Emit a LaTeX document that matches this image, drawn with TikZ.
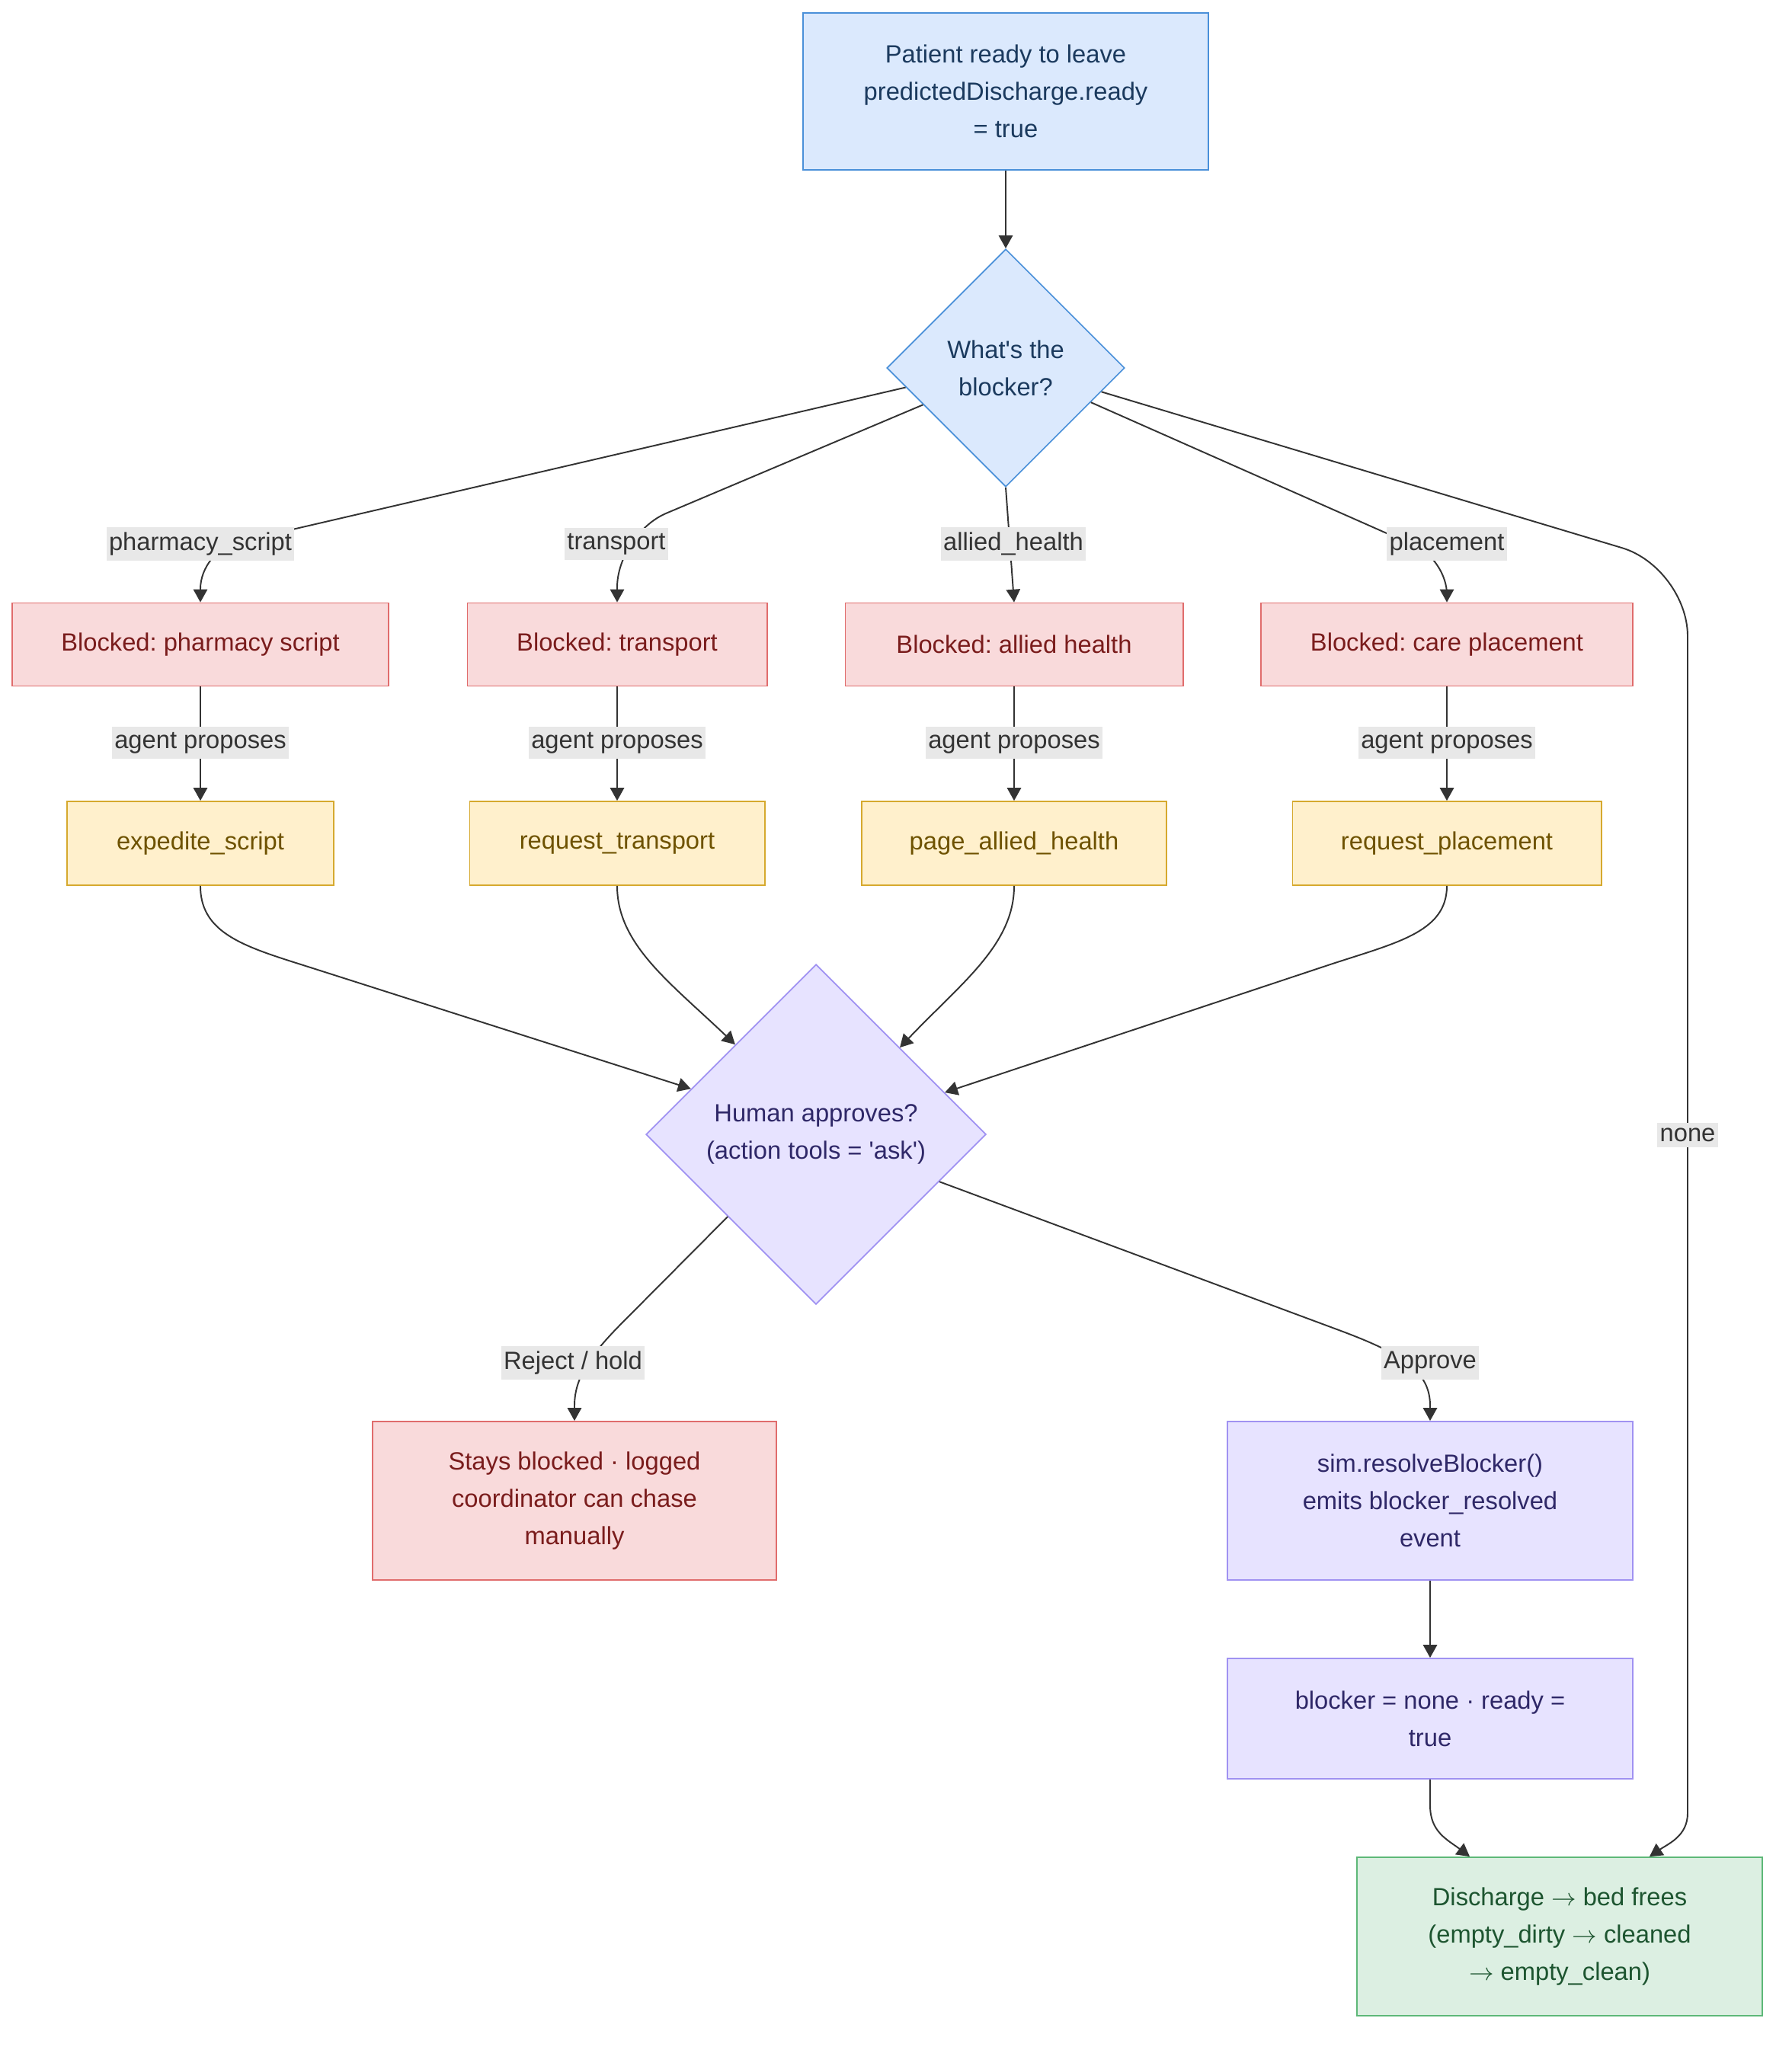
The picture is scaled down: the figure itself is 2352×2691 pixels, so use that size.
\documentclass[tikz,border=0pt]{standalone}
\usepackage{fontspec}
\setmainfont{Liberation Sans}
\usetikzlibrary{shapes.geometric,arrows.meta,calc}
\definecolor{bfill}{HTML}{DBE9FD}
\definecolor{bline}{HTML}{4A90D9}
\definecolor{btext}{HTML}{1B3A5E}
\definecolor{rfill}{HTML}{F9DADB}
\definecolor{rline}{HTML}{E06C6C}
\definecolor{rtext}{HTML}{7A1C1C}
\definecolor{yfill}{HTML}{FFF0CC}
\definecolor{yline}{HTML}{D6A92E}
\definecolor{ytext}{HTML}{6E5200}
\definecolor{pfill}{HTML}{E7E3FF}
\definecolor{pline}{HTML}{A092F2}
\definecolor{ptext}{HTML}{2F2868}
\definecolor{gfill}{HTML}{DCEFE2}
\definecolor{gline}{HTML}{5DB878}
\definecolor{gtext}{HTML}{1D5530}
\definecolor{ecol}{HTML}{333333}
\definecolor{lfill}{HTML}{E8E8E8}
\frenchspacing
\newcommand{\rarr}{\ensuremath{\rightarrow}}
\begin{document}
\begin{tikzpicture}[x=0.01cm,y=-0.01cm,
  font=\fontsize{9.3}{13.9}\selectfont,
  box/.style={rectangle, align=center, line width=0.5pt, inner sep=0pt},
  nblue/.style={box, fill=bfill, draw=bline, text=btext},
  nred/.style={box, fill=rfill, draw=rline, text=rtext},
  nyel/.style={box, fill=yfill, draw=yline, text=ytext},
  npur/.style={box, fill=pfill, draw=pline, text=ptext},
  ngrn/.style={box, fill=gfill, draw=gline, text=gtext},
  dia/.style={diamond, aspect=1, align=center, line width=0.5pt, inner sep=0pt},
  edge/.style={draw=ecol, line width=0.55pt, -{Triangle[length=4.8pt,width=5.2pt]}},
  elabel/.style={fill=lfill, text=ecol, inner xsep=1pt, inner ysep=2pt}
]
\useasboundingbox[fill=white] (0,0) rectangle (2352,2691);

% nodes
\node[nblue, minimum width=5.31cm, minimum height=2.06cm] (A) at (1320,120)
  {Patient ready to leave\\predictedDischarge.ready\\= true};
\node[dia, fill=bfill, draw=bline, text=btext, minimum width=3.12cm, minimum height=3.12cm] (B) at (1320,483)
  {What\textquotesingle s the\\blocker?};

\node[nred, minimum width=4.93cm, minimum height=1.09cm] (R1) at (263,846) {Blocked: pharmacy script};
\node[nred, minimum width=3.93cm, minimum height=1.09cm] (R2) at (810,846) {Blocked: transport};
\node[nred, minimum width=4.43cm, minimum height=1.09cm] (R3) at (1331,846) {Blocked: allied health};
\node[nred, minimum width=4.88cm, minimum height=1.09cm] (R4) at (1899,846) {Blocked: care placement};

\node[nyel, minimum width=3.50cm, minimum height=1.10cm] (Y1) at (263,1107) {expedite\_script};
\node[nyel, minimum width=3.87cm, minimum height=1.10cm] (Y2) at (810,1107) {request\_transport};
\node[nyel, minimum width=4.00cm, minimum height=1.10cm] (Y3) at (1331,1107) {page\_allied\_health};
\node[nyel, minimum width=4.05cm, minimum height=1.10cm] (Y4) at (1899,1107) {request\_placement};

\node[dia, fill=pfill, draw=pline, text=ptext, minimum width=4.46cm, minimum height=4.46cm] (C) at (1071,1489)
  {Human approves?\\(action tools = \textquotesingle ask\textquotesingle)};

\node[nred, minimum width=5.29cm, minimum height=2.08cm] (Rej) at (754,1970)
  {Stays blocked · logged\\coordinator can chase\\manually};
\node[npur, minimum width=5.31cm, minimum height=2.08cm] (Sim) at (1877,1970)
  {sim.resolveBlocker()\\emits blocker\_resolved\\event};
\node[npur, minimum width=5.31cm, minimum height=1.58cm] (Blk) at (1877,2256)
  {blocker = none · ready =\\true};
\node[ngrn, minimum width=5.31cm, minimum height=2.08cm] (D) at (2047,2542)
  {Discharge \rarr{} bed frees\\(empty\_dirty \rarr{} cleaned\\\rarr{} empty\_clean)};

% edges
\draw[edge] (A.south) -- (B.north);
\draw[edge] (B.191.7) [rounded corners=0.5cm] -- (263,723) -- (R1.north);
\draw[edge] (B.204.2) [rounded corners=0.7cm] -- (810,701) -- (R2.north);
\draw[edge] (B.south) -- (R3.north);
\draw[edge] (B.-22) [rounded corners=0.45cm] -- (1899,735) -- (R4.north);
\draw[edge] (B.-14.6) [rounded corners=0.9cm] -- (2215,745) [sharp corners] -- (2215,2380)
  .. controls (2215,2410) and (2190,2420) .. ($(D.north)+(118,0)$);

\draw[edge] (R1.south) -- (Y1.north);
\draw[edge] (R2.south) -- (Y2.north);
\draw[edge] (R3.south) -- (Y3.north);
\draw[edge] (R4.south) -- (Y4.north);

\draw[edge] (Y1.south) .. controls (263,1230) and (330,1245) .. (420,1274) -- (C.160.5);
\draw[edge] (Y2.south) .. controls (810,1240) and (880,1290) .. (C.132.5);
\draw[edge] (Y3.south) .. controls (1331,1240) and (1262,1290) .. (C.46.3);
\draw[edge] (Y4.south) .. controls (1899,1225) and (1830,1238) .. (1740,1268) -- (C.18.2);

\draw[edge] (C.223.2) -- (820,1733) .. controls (780,1773) and (754,1805) .. (754,1845) -- (Rej.north);
\draw[edge] (C.-21) -- (1760,1747) .. controls (1840,1777) and (1877,1800) .. (1877,1845) -- (Sim.north);
\draw[edge] (Sim.south) -- (Blk.north);
\draw[edge] (Blk.south) -- (1877,2370) .. controls (1877,2405) and (1900,2415) .. ($(D.north)+(-118,0)$);

% edge labels
\node[elabel] (l1) at (263,714) {pharmacy\_script};
\node[elabel] (l2) at (809,714) {transport};
\node[elabel] (l3) at (1330,714) {allied\_health};
\node[elabel] (l4) at (1899,714) {placement};
\node[elabel] (l5) at (263,975) {agent proposes};
\node[elabel] (l6) at (810,975) {agent proposes};
\node[elabel] (l7) at (1331,975) {agent proposes};
\node[elabel] (l8) at (1899,975) {agent proposes};
\node[elabel] (l9) at (2215,1490) {none};
\node[elabel] (l10) at (752,1789) {Reject / hold};
\node[elabel] (l11) at (1877,1789) {Approve};
\end{tikzpicture}
\end{document}
